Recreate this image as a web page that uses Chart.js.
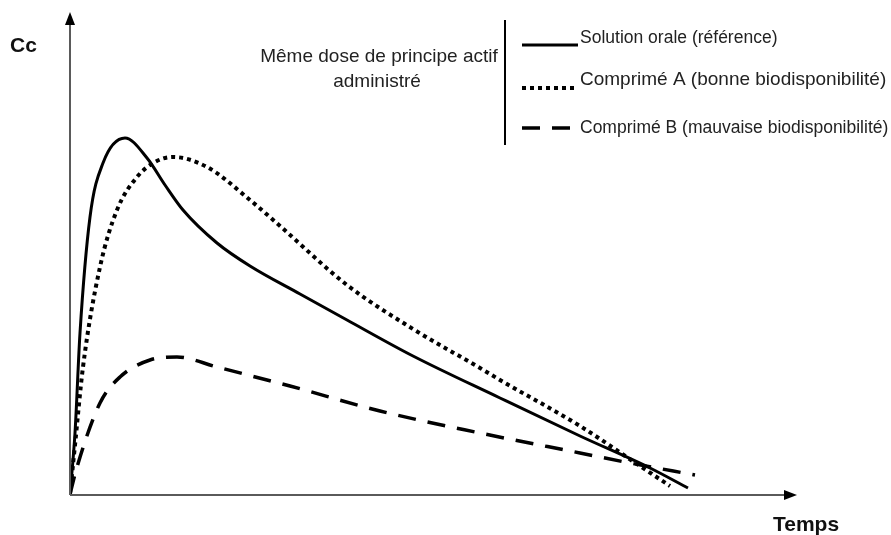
<!DOCTYPE html>
<html>
<head>
<meta charset="utf-8">
<script src="https://cdn.jsdelivr.net/npm/chart.js@4.4.0/dist/chart.umd.min.js"></script>
<style>
  html, body { margin: 0; padding: 0; background: #fff; }
  #wrap { width: 891px; height: 535px; }
</style>
</head>
<body>
<div id="wrap"><canvas id="cc"></canvas></div>
<script>
// Temps (unités arbitraires) et concentrations
const solutionT = [0, 5, 10, 20, 33, 55, 77, 95, 113, 147, 180, 230, 277, 343, 430, 510, 580, 618];
const solutionC = [1, 62, 162, 278, 332, 357, 337, 310, 285, 252, 229, 201, 175, 139, 97, 59, 27, 7];

const compAT = [0, 5, 13, 30, 47, 67, 85, 103, 137, 180, 210, 277, 343, 410, 430, 510, 567, 600];
const compAC = [1, 50, 128, 228, 285, 318, 333, 338, 328, 295, 269, 210, 166, 127, 115, 69, 31, 9];

const compBT = [0, 7, 30, 50, 80, 107, 147, 197, 220, 310, 410, 510, 560, 625];
const compBC = [1, 28, 92, 118, 135, 138, 128, 115, 109, 84, 62, 42, 32, 20];

const legendLabels = [
    "Solution orale (référence)",
    "Comprimé A (bonne biodisponibilité)",
    "Comprimé B (mauvaise biodisponibilité)"
];

function toPoints(xs, ys) {
    return xs.map((x, i) => ({ x: x, y: ys[i] }));
}

// axes with arrows, labels and the legend box at the top
const decorPlugin = {
    id: 'decor',
    afterDatasetsDraw(chart) {
        const ctx = chart.ctx;
        const xs = chart.scales.x, ys = chart.scales.y;
        const x0 = xs.getPixelForValue(0), y0 = ys.getPixelForValue(0);
        const xEnd = xs.getPixelForValue(xs.max), yEnd = ys.getPixelForValue(ys.max);
        ctx.save();
        ctx.strokeStyle = '#5a5a5a';
        ctx.lineWidth = 2;
        ctx.beginPath();
        ctx.moveTo(x0, y0); ctx.lineTo(xEnd - 8, y0);
        ctx.moveTo(x0, y0); ctx.lineTo(x0, yEnd + 8);
        ctx.stroke();
        ctx.fillStyle = '#000';
        ctx.beginPath();
        ctx.moveTo(xEnd, y0); ctx.lineTo(xEnd - 13, y0 - 5); ctx.lineTo(xEnd - 13, y0 + 5); ctx.closePath();
        ctx.fill();
        ctx.beginPath();
        ctx.moveTo(x0, yEnd); ctx.lineTo(x0 - 5, yEnd + 13); ctx.lineTo(x0 + 5, yEnd + 13); ctx.closePath();
        ctx.fill();

        ctx.fillStyle = '#111';
        ctx.font = 'bold 21px "Liberation Sans", Arial, sans-serif';
        ctx.textBaseline = 'middle';
        ctx.textAlign = 'left';
        ctx.fillText('Cc', 10, 46);
        ctx.fillText('Temps', 773, 525);

        // legend
        ctx.font = '19px "Liberation Sans", Arial, sans-serif';
        ctx.textAlign = 'center';
        ctx.fillStyle = '#222';
        ctx.fillText('Même dose de principe actif', 379, 57);
        ctx.fillText('administré', 377, 82);

        ctx.strokeStyle = '#000';
        ctx.lineWidth = 2;
        ctx.beginPath();
        ctx.moveTo(505, 20); ctx.lineTo(505, 145);
        ctx.stroke();

        const rowsY = [45, 88, 128];
        chart.data.datasets.forEach((ds, i) => {
            ctx.strokeStyle = '#000';
            ctx.lineWidth = ds.borderWidth;
            ctx.setLineDash(ds.borderDash || []);
            ctx.beginPath();
            ctx.moveTo(522, rowsY[i]);
            ctx.lineTo(i == 2 ? 570 : 578, rowsY[i]);
            ctx.stroke();
        });
        ctx.setLineDash([]);
        ctx.textAlign = 'left';
        ctx.font = '17.5px "Liberation Sans", Arial, sans-serif';
        ctx.fillText(legendLabels[0], 580, 38);
        ctx.font = '19px "Liberation Sans", Arial, sans-serif';
        ctx.fillText(legendLabels[1], 580, 80);
        ctx.font = '17.5px "Liberation Sans", Arial, sans-serif';
        ctx.fillText(legendLabels[2], 580, 128);
        ctx.restore();
    }
};

new Chart(document.getElementById('cc'), {
    type: 'scatter',
    data: {
        datasets: [{
            label: legendLabels[0],
            data: toPoints(solutionT, solutionC),
            showLine: true,
            borderColor: '#000',
            borderWidth: 3,
            pointRadius: 0,
            cubicInterpolationMode: 'monotone',
        }, {
            label: legendLabels[1],
            data: toPoints(compAT, compAC),
            showLine: true,
            borderColor: '#000',
            borderWidth: 4,
            borderDash: [4, 4],
            pointRadius: 0,
            cubicInterpolationMode: 'monotone',
        }, {
            label: legendLabels[2],
            data: toPoints(compBT, compBC),
            showLine: true,
            borderColor: '#000',
            borderWidth: 3.5,
            borderDash: [18, 12],
            pointRadius: 0,
            cubicInterpolationMode: 'monotone',
        }]
    },
    options: {
        responsive: true,
        maintainAspectRatio: false,
        animation: false,
        layout: { padding: { left: 70, top: 12, right: 94, bottom: 40 } },
        scales: {
            x: { type: 'linear', min: 0, max: 727, display: false },
            y: { type: 'linear', min: 0, max: 483, display: false }
        },
        plugins: {
            legend: { display: false },
            tooltip: { enabled: false }
        }
    },
    plugins: [decorPlugin]
});
</script>
</body>
</html>
